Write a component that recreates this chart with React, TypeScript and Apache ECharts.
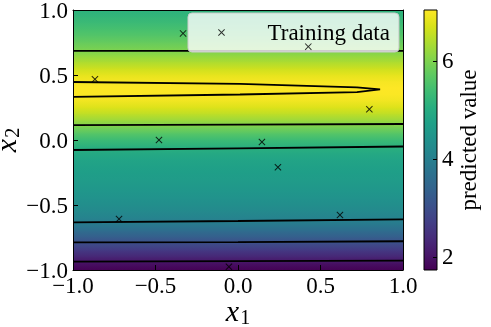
import React, { useEffect, useRef } from "react";
import * as echarts from "echarts";

// x2 positions of the predicted-value profile (top to bottom)
const x2Grid = [
  1.0, 0.95, 0.9, 0.85, 0.8, 0.75, 0.7, 0.65, 0.6, 0.55, 0.5, 0.45, 0.4, 0.35, 0.3, 0.25, 0.2, 0.15, 0.1, 0.05, 0.0,
  -0.05, -0.1, -0.15, -0.2, -0.25, -0.3, -0.35, -0.4, -0.45, -0.5, -0.55, -0.6, -0.65, -0.7, -0.75, -0.8, -0.85,
  -0.9, -0.95, -1.0,
];
// predicted value along x2 (read from the colour field)
const predictedValues = [
  5.12, 5.22, 5.34, 5.47, 5.62, 5.78, 5.95, 6.15, 6.38, 6.62, 6.83, 6.98, 7.04, 7.01, 6.92, 6.74, 6.5, 6.22, 5.93,
  5.62, 5.33, 5.09, 4.93, 4.82, 4.74, 4.68, 4.62, 4.56, 4.49, 4.41, 4.32, 4.21, 4.07, 3.86, 3.58, 3.27, 2.93, 2.59,
  2.26, 1.95, 1.73,
];

// training points
const trainX1 = [-0.333, 0.426, -0.867, -0.479, 0.796, 0.145, 0.242, 0.618, -0.721, -0.055];
const trainX2 = [0.82, 0.718, 0.467, 0.0, 0.236, -0.015, -0.21, -0.577, -0.608, -0.975];

// contour lines [x1, x2]
const contour6Upper = [[-1, 0.685], [1, 0.685]];
const contour7 = [
  [-1, 0.446], [0.012, 0.431], [0.721, 0.405], [0.861, 0.39], [0.721, 0.369], [0.012, 0.35], [-1, 0.331],
];
const contour6Lower = [[-1, 0.115], [0, 0.119], [1, 0.123]];
const contour5 = [[-1, -0.077], [0, -0.064], [1, -0.05]];
const contour4 = [[-1, -0.633], [0, -0.623], [1, -0.61]];
const contour3 = [[-1, -0.787], [0, -0.785], [1, -0.779]];
const contour2 = [[-1, -0.936], [1, -0.928]];

const axisTicks = [-1, -0.5, 0, 0.5, 1];
const colorbarTicks = [2, 4, 6];
const colorRange = [1.73, 7.04];

const VIRIDIS = [
  "#440154", "#48186a", "#472d7b", "#424086", "#3b528b", "#33638d", "#2c728e", "#26828e", "#21918c",
  "#1fa088", "#28ae80", "#3fbc73", "#5ec962", "#84d44b", "#addc30", "#d8e219", "#fde725",
];

const FONT = "'Liberation Serif', 'Times New Roman', serif";

function hexToRgb(h: string) {
  return [parseInt(h.slice(1, 3), 16), parseInt(h.slice(3, 5), 16), parseInt(h.slice(5, 7), 16)];
}
function viridis(v: number) {
  let t = (v - colorRange[0]) / (colorRange[1] - colorRange[0]);
  t = Math.max(0, Math.min(1, t));
  const f = t * (VIRIDIS.length - 1);
  const i = Math.min(VIRIDIS.length - 2, Math.floor(f));
  const r = f - i;
  const a = hexToRgb(VIRIDIS[i]);
  const b = hexToRgb(VIRIDIS[i + 1]);
  const c = a.map((x, k) => Math.round(x + (b[k] - x) * r));
  return `rgb(${c[0]},${c[1]},${c[2]})`;
}

const fmt = (v: number) => (v < 0 ? "\u2212" : "") + Math.abs(v).toFixed(1);

const X_PATH = "path://M0,1 L1,0 L5,4 L9,0 L10,1 L6,5 L10,9 L9,10 L5,6 L1,10 L0,9 L4,5 Z";

export default function App() {
  const ref = useRef<HTMLDivElement>(null);
  useEffect(() => {
    if (!ref.current) return;
    const chart = echarts.init(ref.current, null, { renderer: "svg" });

    const heatRows = x2Grid.slice(0, -1).map((y, i) => [y, x2Grid[i + 1], predictedValues[i], predictedValues[i + 1]]);

    const contourSeries = [contour6Upper, contour7, contour6Lower, contour5, contour4, contour3, contour2].map(
      (c) => ({
        type: "line",
        xAxisIndex: 0,
        yAxisIndex: 0,
        data: c,
        symbol: "none",
        silent: true,
        z: 3,
        lineStyle: { color: "#000", width: 1.8 },
      })
    );

    const labelStyle = { fontFamily: FONT, fontSize: 23, color: "#000" };
    const nameRich = {
      i: { fontFamily: FONT, fontStyle: "italic", fontSize: 30, color: "#000" },
      s: { fontFamily: FONT, fontSize: 20, color: "#000", padding: [14, 0, 0, 1] },
    };
    const frameLine = { show: true, onZero: false, lineStyle: { color: "#000", width: 1 } };

    const option: any = {
      animation: false,
      grid: [
        { left: 73, top: 10, width: 330, height: 260, outerBoundsMode: "none", containLabel: false },
        { left: 424, top: 10, width: 13, height: 260, outerBoundsMode: "none", containLabel: false },
      ],
      legend: {
        data: ["Training data"],
        left: 188,
        top: 13,
        padding: [8, 9, 8, 30],
        itemWidth: 44,
        itemHeight: 7,
        backgroundColor: "rgba(255,255,255,0.8)",
        borderColor: "#cccccc",
        borderWidth: 1,
        borderRadius: 4,
        textStyle: { ...labelStyle, padding: [0, 0, 0, 19] },
      },
      xAxis: [
        {
          gridIndex: 0,
          type: "value",
          min: axisTicks[0],
          max: axisTicks[axisTicks.length - 1],
          interval: 0.5,
          z: 10,
          axisLine: frameLine,
          axisTick: { show: true, inside: true, length: 5, lineStyle: { color: "#000" } },
          axisLabel: { ...labelStyle, margin: 4, formatter: fmt },
          splitLine: { show: false },
          name: "{i|x}{s|1}",
          nameLocation: "middle",
          nameGap: 23,
          nameMoveOverlap: false,
          nameTextStyle: { rich: nameRich },
        },
        {
          gridIndex: 1,
          type: "value",
          min: 0,
          max: 1,
          show: false,
        },
        {
          gridIndex: 0,
          type: "value",
          position: "top",
          min: -1,
          max: 1,
          z: 10,
          axisLine: frameLine,
          axisTick: { show: false },
          axisLabel: { show: false },
          splitLine: { show: false },
        },
      ],
      yAxis: [
        {
          gridIndex: 0,
          type: "value",
          min: axisTicks[0],
          max: axisTicks[axisTicks.length - 1],
          interval: 0.5,
          z: 10,
          axisLine: frameLine,
          axisTick: { show: true, inside: true, length: 5, lineStyle: { color: "#000" } },
          axisLabel: { ...labelStyle, margin: 5, formatter: fmt },
          splitLine: { show: false },
          name: "{i|x}{s|2}",
          nameLocation: "middle",
          nameRotate: 90,
          nameGap: 51,
          nameMoveOverlap: false,
          nameTextStyle: { rich: nameRich },
        },
        {
          gridIndex: 1,
          type: "value",
          position: "right",
          min: colorRange[0],
          max: colorRange[1],
          z: 10,
          axisLine: { show: false, onZero: false },
          axisTick: { show: true, inside: true, length: 4, customValues: colorbarTicks, lineStyle: { color: "#000" } },
          axisLabel: { ...labelStyle, margin: 5, customValues: colorbarTicks },
          splitLine: { show: false },
          name: "predicted value",
          nameLocation: "middle",
          nameRotate: 90,
          nameGap: 20,
          nameTextStyle: { fontFamily: FONT, fontSize: 23, color: "#000" },
        },
        {
          gridIndex: 0,
          type: "value",
          position: "right",
          min: -1,
          max: 1,
          z: 10,
          axisLine: frameLine,
          axisTick: { show: false },
          axisLabel: { show: false },
          splitLine: { show: false },
        },
      ],
      series: [
        {
          type: "custom",
          xAxisIndex: 0,
          yAxisIndex: 0,
          silent: true,
          clip: true,
          z: 1,
          data: heatRows,
          renderItem: (params: any, api: any) => {
            const yA = api.value(0);
            const yB = api.value(1);
            const pA = api.coord([-1, yA]);
            const pB = api.coord([1, yB]);
            const top = Math.min(pA[1], pB[1]);
            const h = Math.abs(pB[1] - pA[1]);
            return {
              type: "rect",
              shape: { x: pA[0], y: top, width: pB[0] - pA[0], height: h + 0.6 },
              style: {
                fill: new echarts.graphic.LinearGradient(0, 0, 0, 1, [
                  { offset: 0, color: viridis(api.value(2)) },
                  { offset: 1, color: viridis(api.value(3)) },
                ]),
              },
            };
          },
        },
        {
          type: "custom",
          xAxisIndex: 1,
          yAxisIndex: 1,
          silent: true,
          z: 1,
          data: [[colorRange[0], colorRange[1]]],
          renderItem: (params: any, api: any) => {
            const pTop = api.coord([0, api.value(1)]);
            const pBot = api.coord([1, api.value(0)]);
            const n = VIRIDIS.length;
            return {
              type: "rect",
              shape: { x: pTop[0], y: pTop[1], width: pBot[0] - pTop[0], height: pBot[1] - pTop[1] },
              style: {
                fill: new echarts.graphic.LinearGradient(
                  0,
                  0,
                  0,
                  1,
                  VIRIDIS.map((c, i) => ({ offset: i / (n - 1), color: VIRIDIS[n - 1 - i] }))
                ),
                stroke: "#000",
                lineWidth: 1,
              },
            };
          },
        },
        ...contourSeries,
        {
          name: "Training data",
          type: "scatter",
          xAxisIndex: 0,
          yAxisIndex: 0,
          symbol: X_PATH,
          symbolSize: 7,
          z: 4,
          itemStyle: { color: "#000" },
          data: trainX1.map((x, i) => [x, trainX2[i]]),
        },
      ],
    };
    chart.setOption(option);
    return () => chart.dispose();
  }, []);
  return <div ref={ref} style={{ position: "fixed", left: 0, top: 0, width: 491, height: 327 }} />;
}
